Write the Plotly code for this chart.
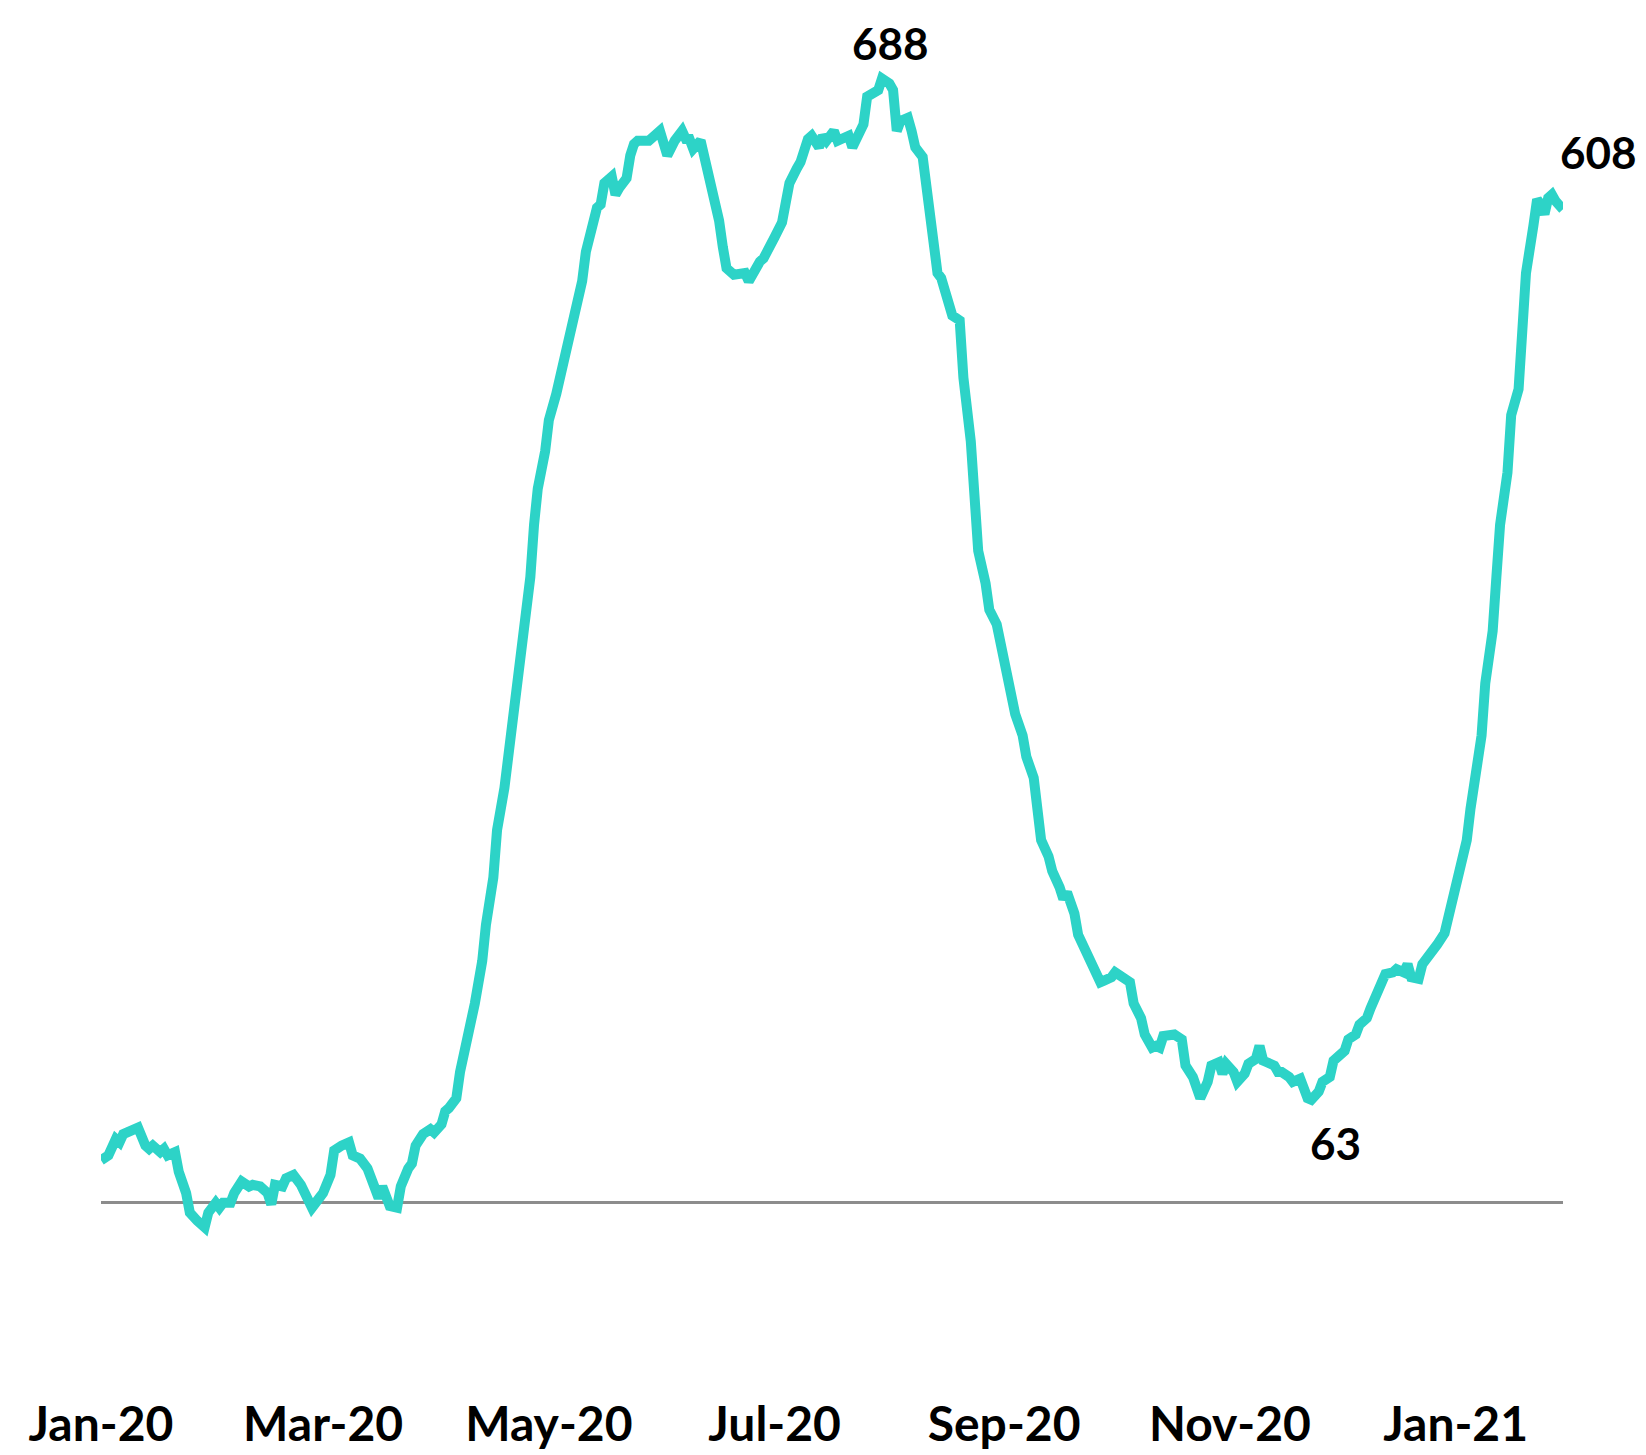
import datetime as dt
import plotly.graph_objects as go

# Day offsets since 2020-01-01 and the values
day_offsets = [0, 2, 4, 5, 6, 9, 10, 12, 13, 14, 16, 17, 18, 20, 21, 23, 24, 26, 28, 29,
               31, 32, 33, 35, 36, 38, 40, 41, 43, 45, 46, 47, 49, 50, 52, 54, 56, 57, 59, 60,
               62, 63, 65, 67, 68, 70, 72, 74, 75, 76, 78, 80, 81, 83, 84, 85, 87, 89, 90, 92,
               93, 94, 96, 97, 99, 100, 101, 103, 104, 106, 107, 109, 110, 111, 113, 114, 116, 117, 118, 120,
               121, 123, 124, 125, 127, 128, 130, 131, 133, 134, 135, 136, 138, 139, 140, 142, 143, 144, 145, 147,
               148, 150, 151, 153, 154, 155, 157, 158, 159, 160, 162, 163, 164, 166, 167, 168, 169, 171, 172, 174,
               175, 176, 178, 179, 181, 182, 184, 185, 186, 188, 189, 191, 192, 194, 195, 196, 198, 199, 201, 202,
               203, 205, 206, 207, 208, 210, 211, 213, 214, 215, 216, 218, 219, 220, 222, 223, 225, 226, 227, 229,
               230, 232, 233, 235, 236, 237, 239, 240, 242, 243, 244, 246, 247, 249, 250, 252, 253, 254, 256, 257,
               259, 260, 261, 263, 264, 266, 267, 269, 270, 271, 273, 274, 276, 277, 278, 279, 281, 282, 284, 285,
               286, 287, 289, 290, 292, 293, 295, 296, 297, 299, 300, 302, 303, 304, 306, 307, 309, 310, 312, 313,
               314, 315, 317, 318, 319, 321, 322, 324, 325, 326, 327, 329, 330, 332, 333, 335, 336, 337, 339, 340,
               342, 343, 344, 346, 347, 349, 350, 352, 353, 354, 356, 357, 359, 360, 361, 363, 364, 366, 367, 369,
               370, 371, 373, 374, 376, 377, 378, 380, 381, 383, 384, 385, 387, 388, 389, 390, 391, 392, 393, 395]

values = [26, 29, 39, 37, 42, 44, 46, 35, 33, 35, 31, 33, 29, 31, 19, 6, -6, -11, -15, -6,
          0, -3, 0, 0, 6, 13, 10, 11, 10, 6, -1, 11, 10, 15, 17, 11, 0, -3, 3, 6,
          17, 32, 35, 37, 29, 27, 21, 6, 3, 10, -2, -3, 10, 21, 24, 35, 42, 45, 43, 48,
          56, 58, 64, 80, 100, 116, 122, 148, 170, 199, 228, 254, 273, 296, 325, 350, 383, 415, 437, 460,
          479, 495, 505, 514, 534, 550, 564, 582, 605, 609, 611, 624, 628, 617, 621, 627, 641, 648, 650, 651,
          650, 654, 656, 641, 646, 650, 656, 651, 651, 645, 650, 641, 627, 611, 601, 585, 572, 568, 568, 569,
          564, 569, 576, 578, 589, 591, 600, 617, 624, 633, 637, 651, 653, 646, 653, 650, 656, 650, 653, 653,
          646, 656, 660, 677, 678, 681, 688, 685, 681, 656, 662, 664, 656, 646, 640, 621, 595, 569, 566, 553,
          543, 540, 505, 466, 428, 399, 379, 363, 354, 344, 331, 315, 299, 286, 273, 260, 241, 222, 212, 203,
          193, 186, 190, 177, 164, 154, 148, 141, 135, 136, 138, 141, 138, 136, 135, 122, 113, 103, 95, 96,
          95, 102, 103, 103, 100, 84, 77, 69, 64, 74, 84, 86, 79, 85, 80, 74, 79, 85, 88, 96,
          87, 86, 84, 80, 80, 77, 74, 76, 68, 64, 63, 68, 74, 77, 87, 90, 93, 100, 103, 109,
          113, 119, 125, 135, 140, 141, 143, 141, 146, 138, 137, 146, 151, 154, 158, 165, 174, 193, 203, 222,
          241, 257, 286, 318, 350, 383, 415, 447, 482, 498, 537, 569, 598, 614, 611, 605, 615, 617, 613, 608]

tick_dates = ["2020-01-01", "2020-03-01", "2020-05-01", "2020-07-01",
              "2020-09-01", "2020-11-01", "2021-01-01"]
tick_labels = ["Jan-20", "Mar-20", "May-20", "Jul-20", "Sep-20", "Nov-20", "Jan-21"]

# labelled points: (day offset, value)
label_points = [(211, 688), (395, 608), (327, 63)]

start = dt.date(2020, 1, 1)
dates = [start + dt.timedelta(days=d) for d in day_offsets]

LINE = "#2DD3C7"
FAMILY = "Lato, 'Open Sans', sans-serif"
AXIS_FONT = dict(family=FAMILY, size=48, color="#000000", weight="bold")
LABEL_FONT = dict(family=FAMILY, size=44, color="#000000", weight="bold")

fig = go.Figure()
fig.add_trace(go.Scatter(
    x=dates, y=values, mode="lines",
    line=dict(color=LINE, width=10, shape="linear"),
    hoverinfo="x+y", showlegend=False, cliponaxis=False,
))

offsets = {688: (9, 36, "center"), 608: (76, 57, "right"), 63: (24, -43, "center")}
for d, v in label_points:
    xs, ys, xa = offsets[v]
    fig.add_annotation(
        x=start + dt.timedelta(days=d), y=v, text=str(v), showarrow=False,
        xshift=xs, yshift=ys, xanchor=xa, yanchor="middle",
        font=LABEL_FONT,
    )

fig.update_layout(
    width=1646, height=1455,
    margin=dict(l=101, r=83, t=59, b=63, autoexpand=False),
    paper_bgcolor="white", plot_bgcolor="white",
    font=AXIS_FONT,
)
fig.update_xaxes(
    type="date", automargin=False,
    range=[start, start + dt.timedelta(days=395)],
    tickvals=tick_dates, ticktext=tick_labels,
    showgrid=False, showline=False, zeroline=False, ticks="",
    tickfont=AXIS_FONT, ticklabelstandoff=0,
)
fig.update_yaxes(
    automargin=False,
    range=[-115.8, 700],
    showgrid=False, showticklabels=False, showline=False, ticks="",
    zeroline=True, zerolinecolor="#8C8C8C", zerolinewidth=3,
)

fig.write_html(
    "out.html",
    config={"displayModeBar": False},
    post_script="document.body.style.margin='0px';document.body.style.overflow='hidden';",
)
